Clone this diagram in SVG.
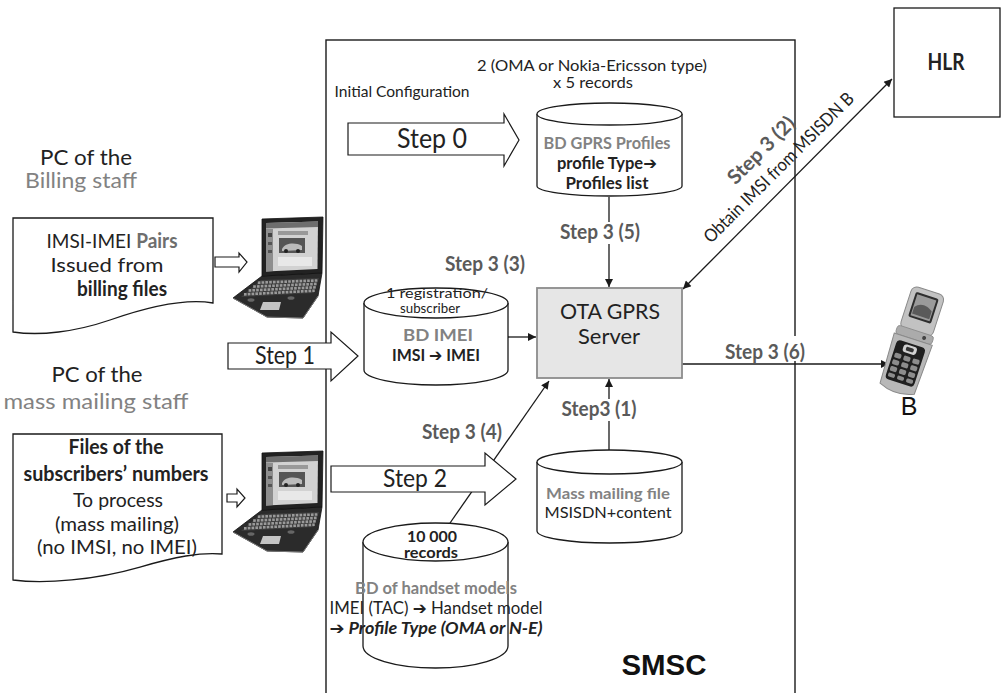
<svg xmlns="http://www.w3.org/2000/svg" xmlns:xlink="http://www.w3.org/1999/xlink" width="1001" height="693" viewBox="0 0 1001 693">
  <style>
    .t { font-family: Lato, "Open Sans", "Liberation Sans", sans-serif; fill: #222; text-anchor: middle; }
    .b { font-weight: bold; }
    .g { fill: #828282; }
    .lbl { font-weight: bold; fill: #5a5a5a; font-size: 20px; }
    .ar { font-family: "DejaVu Sans", sans-serif; font-weight: bold; }
    .arial { font-family: "Liberation Sans", Arial, sans-serif; fill: #111; text-anchor: middle; }
    .shape { fill: #fff; stroke: #1a1a1a; stroke-width: 1.3; }
    .conn { fill: none; stroke: #1a1a1a; stroke-width: 1.3; }
    .blk { fill: #fff; stroke: #1a1a1a; stroke-width: 1.2; stroke-linejoin: miter; }
    .bg { fill: #fff; }
  </style>
  <defs>
    <marker id="ah" viewBox="0 0 10 10" refX="10" refY="5" markerWidth="10" markerHeight="8" orient="auto-start-reverse" markerUnits="userSpaceOnUse">
      <path d="M0,0 L10,5 L0,10 Z" fill="#1a1a1a"/>
    </marker>
    <!-- laptop icon, local origin at top-left of its box -->
    <g id="laptop">
      <path d="M33,60 L4,82 L38,101 L74,102 L89,80 L93,57 Z" fill="#2b2b2b" stroke="#111" stroke-width="0.8"/>
      <path d="M32,64 L90,62 L85,77 L12,81 Z" fill="#3e3e3e"/>
      <g stroke="#9a9a9a" stroke-width="2.6" stroke-dasharray="2.6 1.2" fill="none">
        <path d="M15,78.4 L85.7,74.7"/>
        <path d="M19.6,74.5 L86.9,71.3"/>
        <path d="M24.2,70.6 L88,67.9"/>
        <path d="M28.8,66.7 L89.2,64.4"/>
      </g>
      <path d="M34,86 L52,86 L50,94 L31,94 Z" fill="#c4c4c4"/>
      <ellipse cx="22" cy="84" rx="3.5" ry="1.8" fill="#666"/>
      <ellipse cx="62" cy="82" rx="3.5" ry="1.8" fill="#666"/>
      <path d="M4,82 L38,101 L74,102 L89,80" fill="none" stroke="#777" stroke-width="1"/>
      <path d="M33,3 L94,1 L93,57 L33,60 Z" fill="#222" stroke="#111" stroke-width="0.8"/>
      <path d="M37,7 L89,5.5 L88.5,53 L37,55.5 Z" fill="#d2d2d2"/>
      <path d="M37,7 L89,5.5 L89,11 L37,12.5 Z" fill="#6e6e6e"/>
      <path d="M37,13 L44,13 L44,55 L37,55.5 Z" fill="#8e8e8e"/>
      <rect x="39" y="17" width="4" height="4" fill="#444"/>
      <rect x="39" y="26" width="4" height="3" fill="#555"/>
      <rect x="39" y="34" width="4" height="3" fill="#555"/>
      <rect x="49" y="15" width="30" height="4" fill="#999"/>
      <rect x="50" y="22" width="26" height="15" fill="#555"/>
      <path d="M53,33 C56,27 66,26 73,30 L73,34 L53,35 Z" fill="#bbb"/>
      <circle cx="57" cy="35" r="2" fill="#222"/>
      <circle cx="69" cy="35" r="2" fill="#222"/>
      <rect x="49" y="41" width="34" height="9" fill="#e8e8e8"/>
    </g>
  </defs>

  <!-- SMSC frame -->
  <g id="smsc">
    <rect x="326" y="40" width="469" height="700" fill="none" stroke="#1a1a1a" stroke-width="1.4"/>
    <text class="arial" x="664" y="675" font-size="29" font-weight="bold" textLength="85" lengthAdjust="spacingAndGlyphs">SMSC</text>
    <text class="t" x="402" y="97" font-size="15" textLength="135" lengthAdjust="spacingAndGlyphs">Initial Configuration</text>
  </g>

  <!-- connectors -->
  <g id="connectors">
    <line class="conn" x1="609" y1="197" x2="609" y2="287" marker-end="url(#ah)"/>
    <line class="conn" x1="508" y1="337" x2="536" y2="337" marker-end="url(#ah)"/>
    <line class="conn" x1="609" y1="450" x2="609" y2="379" marker-end="url(#ah)"/>
    <line class="conn" x1="450" y1="523" x2="549" y2="381" marker-end="url(#ah)"/>
    <line class="conn" x1="683" y1="289" x2="892" y2="79" marker-start="url(#ah)" marker-end="url(#ah)"/>
    <line class="conn" x1="682" y1="364" x2="889" y2="364" marker-end="url(#ah)"/>
  </g>

  <!-- connector labels -->
  <g id="labels">
    <rect class="bg" x="558" y="222" width="84" height="22"/>
    <text class="t lbl" x="600" y="239" textLength="80" lengthAdjust="spacingAndGlyphs">Step 3 (5)</text>
    <text class="t lbl" x="485" y="271" textLength="80" lengthAdjust="spacingAndGlyphs">Step 3 (3)</text>
    <rect class="bg" x="722" y="336" width="86" height="25"/>
    <text class="t lbl" x="765" y="359" textLength="80" lengthAdjust="spacingAndGlyphs">Step 3 (6)</text>
    <rect class="bg" x="560" y="399" width="79" height="22"/>
    <text class="t lbl" x="599" y="416" textLength="75" lengthAdjust="spacingAndGlyphs">Step3 (1)</text>
    <text class="t lbl" x="462" y="439" textLength="80" lengthAdjust="spacingAndGlyphs">Step 3 (4)</text>
    <text class="t lbl" transform="translate(766,155) rotate(-45)" x="0" y="0" textLength="86" lengthAdjust="spacingAndGlyphs">Step 3 (2)</text>
    <text class="t" font-size="18" transform="translate(783,172) rotate(-45)" x="0" y="0" textLength="204" lengthAdjust="spacingAndGlyphs">Obtain IMSI from MSISDN B</text>
  </g>

  <!-- BD GPRS Profiles -->
  <g id="db-gprs">
    <text class="t" x="592" y="71" font-size="16" textLength="230" lengthAdjust="spacingAndGlyphs">2 (OMA or Nokia-Ericsson type)</text>
    <text class="t" x="593" y="88" font-size="16" textLength="80" lengthAdjust="spacingAndGlyphs">x 5 records</text>
    <path class="shape" d="M537,114 V186 A72.5,10 0 0 0 682,186 V114"/>
    <ellipse class="shape" cx="609.5" cy="114" rx="72.5" ry="11"/>
    <text class="t b g" x="607" y="149" font-size="17" textLength="127" lengthAdjust="spacingAndGlyphs">BD GPRS Profiles</text>
    <text class="t b" x="607" y="169" font-size="17" textLength="100" lengthAdjust="spacingAndGlyphs">profile Type<tspan class="ar">➔</tspan></text>
    <text class="t b" x="607" y="189" font-size="17" textLength="83" lengthAdjust="spacingAndGlyphs">Profiles list</text>
  </g>

  <!-- BD IMEI -->
  <g id="db-imei">
    <path class="shape" d="M364,303 V370 A72,15 0 0 0 508,370 V303"/>
    <ellipse class="shape" cx="436" cy="303" rx="72" ry="15"/>
    <text class="t" x="437" y="298" font-size="14" textLength="102" lengthAdjust="spacingAndGlyphs">1 registration/</text>
    <text class="t" x="430" y="313" font-size="14" textLength="60" lengthAdjust="spacingAndGlyphs">subscriber</text>
    <text class="t b g" x="438" y="341" font-size="17" textLength="70" lengthAdjust="spacingAndGlyphs">BD  IMEI</text>
    <text class="t b" x="436" y="361" font-size="17" textLength="88" lengthAdjust="spacingAndGlyphs">IMSI <tspan class="ar">➔</tspan> IMEI</text>
  </g>

  <!-- OTA GPRS Server -->
  <g id="ota-server">
    <rect x="537" y="288" width="145" height="90" fill="#e6e6e6" stroke="#8c8c8c" stroke-width="1.8"/>
    <text class="t" x="610" y="319" font-size="22" fill="#333" textLength="100" lengthAdjust="spacingAndGlyphs">OTA GPRS</text>
    <text class="t" x="609" y="344" font-size="22" textLength="62" lengthAdjust="spacingAndGlyphs">Server</text>
  </g>

  <!-- Mass mailing file -->
  <g id="db-mass">
    <path class="shape" d="M537,462 V531 A72.5,12 0 0 0 682,531 V462"/>
    <ellipse class="shape" cx="609.5" cy="462" rx="72.5" ry="12"/>
    <text class="t b g" x="608" y="499" font-size="16" textLength="124" lengthAdjust="spacingAndGlyphs">Mass mailing  file</text>
    <text class="t" x="608" y="518" font-size="16" textLength="127" lengthAdjust="spacingAndGlyphs">MSISDN+content</text>
  </g>

  <!-- BD of handset models -->
  <g id="db-handset">
    <path class="shape" d="M363,542 V646 A72.5,22 0 0 0 508,646 V542"/>
    <ellipse class="shape" cx="435.5" cy="542" rx="72.5" ry="19"/>
    <text class="t b" x="432" y="542" font-size="16" textLength="50" lengthAdjust="spacingAndGlyphs">10 000</text>
    <text class="t b" x="431" y="558" font-size="16" textLength="54" lengthAdjust="spacingAndGlyphs">records</text>
    <text class="t b g" x="436" y="594" font-size="17" textLength="162" lengthAdjust="spacingAndGlyphs">BD of handset models</text>
    <text class="t" x="436" y="614" font-size="17" textLength="213" lengthAdjust="spacingAndGlyphs">IMEI (TAC) <tspan class="ar">➔</tspan> Handset model</text>
    <text class="t b" x="436" y="634" font-size="17" font-style="italic" textLength="213" lengthAdjust="spacingAndGlyphs"><tspan class="ar" font-style="normal">➔</tspan> Profile  Type  (OMA  or  N-E)</text>
  </g>

  <!-- HLR -->
  <g id="hlr">
    <rect x="894" y="8" width="106" height="109" fill="#fff" stroke="#1a1a1a" stroke-width="1.3"/>
    <text class="t b" x="946" y="70" font-size="22" fill="#111" textLength="37" lengthAdjust="spacingAndGlyphs">HLR</text>
  </g>

  <!-- handset B -->
  <g id="handset-b">
    <g transform="translate(912,343) rotate(18)">
      <rect x="-17" y="-55" width="34" height="44" rx="6" fill="#c2c2c2" stroke="#8a8a8a" stroke-width="1"/>
      <rect x="-12" y="-50" width="24" height="26" rx="2" fill="#2e2e2e"/>
      <rect x="-10" y="-48" width="20" height="22" fill="#9a9a9a"/>
      <path d="M-9,-35 C-4,-42 4,-40 9,-36 L9,-28 L-9,-28 Z" fill="#5a5a5a"/>
      <rect x="-19" y="-13" width="38" height="9" rx="3" fill="#ababab" stroke="#8a8a8a" stroke-width="0.8"/>
      <circle cx="10" cy="-8.5" r="2" fill="#444"/>
      <path d="M-20,-4 H20 L18,48 Q0,56 -18,48 Z" fill="#b8b8b8" stroke="#8a8a8a" stroke-width="1"/>
      <rect x="-15" y="1" width="30" height="41" rx="4" fill="#1f1f1f"/>
      <rect x="-7" y="3" width="14" height="8" rx="3" fill="#d0d0d0"/>
      <rect x="-4" y="5" width="8" height="4" rx="1.5" fill="#333"/>
      <g fill="#8c8c8c">
        <rect x="-13" y="14" width="7" height="5" rx="1.5"/>
        <rect x="-3.5" y="14" width="7" height="5" rx="1.5"/>
        <rect x="6" y="14" width="7" height="5" rx="1.5"/>
        <rect x="-13" y="21" width="7" height="5" rx="1.5"/>
        <rect x="-3.5" y="21" width="7" height="5" rx="1.5"/>
        <rect x="6" y="21" width="7" height="5" rx="1.5"/>
        <rect x="-13" y="28" width="7" height="5" rx="1.5"/>
        <rect x="-3.5" y="28" width="7" height="5" rx="1.5"/>
        <rect x="6" y="28" width="7" height="5" rx="1.5"/>
        <rect x="-13" y="35" width="7" height="4" rx="1.5"/>
        <rect x="-3.5" y="35" width="7" height="4" rx="1.5"/>
        <rect x="6" y="35" width="7" height="4" rx="1.5"/>
      </g>
    </g>
    <text class="arial" x="909" y="415" font-size="25">B</text>
  </g>

  <!-- billing staff PC -->
  <g id="pc-billing">
    <text class="t" x="86" y="165" font-size="22" textLength="92" lengthAdjust="spacingAndGlyphs">PC of the</text>
    <text class="t g" x="81" y="188" font-size="22" textLength="112" lengthAdjust="spacingAndGlyphs">Billing staff</text>
    <path class="shape" d="M13,218 H213 V303 C185,298 150,306 110,320 C75,332 40,336 13,332 Z"/>
    <text class="t" x="112" y="248" font-size="20" textLength="131" lengthAdjust="spacingAndGlyphs">IMSI-IMEI <tspan class="b" fill="#6e6e6e">Pairs</tspan></text>
    <text class="t" x="107" y="272" font-size="20" textLength="113" lengthAdjust="spacingAndGlyphs">Issued  from</text>
    <text class="t b" x="122" y="296" font-size="20" fill="#6e6e6e" textLength="90" lengthAdjust="spacingAndGlyphs">billing files</text>
    <path class="blk" d="M215,257 H239 V253 L247,262 L239,272 V267 H215 Z"/>
    <use xlink:href="#laptop" href="#laptop" x="229" y="216"/>
  </g>

  <!-- mass mailing staff PC -->
  <g id="pc-mass">
    <text class="t" x="97" y="382" font-size="22" textLength="91" lengthAdjust="spacingAndGlyphs">PC of the</text>
    <text class="t g" x="96" y="409" font-size="22" textLength="185" lengthAdjust="spacingAndGlyphs">mass mailing staff</text>
    <path class="shape" d="M13,434 H222 V554 C200,552 175,557 140,567 C95,580 45,584 13,580 Z"/>
    <text class="t b" x="116" y="454" font-size="20" fill="#6e6e6e" textLength="95" lengthAdjust="spacingAndGlyphs">Files of the</text>
    <text class="t b" x="116" y="481" font-size="20" fill="#6e6e6e" textLength="185" lengthAdjust="spacingAndGlyphs">subscribers’ numbers</text>
    <text class="t" x="118" y="507" font-size="20" textLength="90" lengthAdjust="spacingAndGlyphs">To process</text>
    <text class="t" x="117" y="531" font-size="20" textLength="124" lengthAdjust="spacingAndGlyphs">(mass mailing)</text>
    <text class="t" x="117" y="554" font-size="20" textLength="160" lengthAdjust="spacingAndGlyphs">(no IMSI, no IMEI)</text>
    <path class="blk" d="M227,494 H237 V489 L245,498 L237,507 V502 H227 Z"/>
    <use xlink:href="#laptop" href="#laptop" x="229" y="450"/>
  </g>

  <!-- step block arrows -->
  <g id="step0">
    <path class="blk" d="M348,123 H504 V114 L519,140 L504,166 V155 H348 Z"/>
    <text class="t" x="432" y="148" font-size="26" textLength="70" lengthAdjust="spacingAndGlyphs">Step 0</text>
  </g>
  <g id="step1">
    <path class="blk" d="M228,343 H331 V332 L358,356 L331,381 V369 H228 Z"/>
    <text class="t" x="285" y="364" font-size="25" textLength="60" lengthAdjust="spacingAndGlyphs">Step 1</text>
  </g>
  <g id="step2">
    <path class="blk" d="M331,466 H485 V453 L516,479 L485,505 V492 H331 Z"/>
    <text class="t" x="415" y="487" font-size="25" textLength="64" lengthAdjust="spacingAndGlyphs">Step 2</text>
  </g>
</svg>
